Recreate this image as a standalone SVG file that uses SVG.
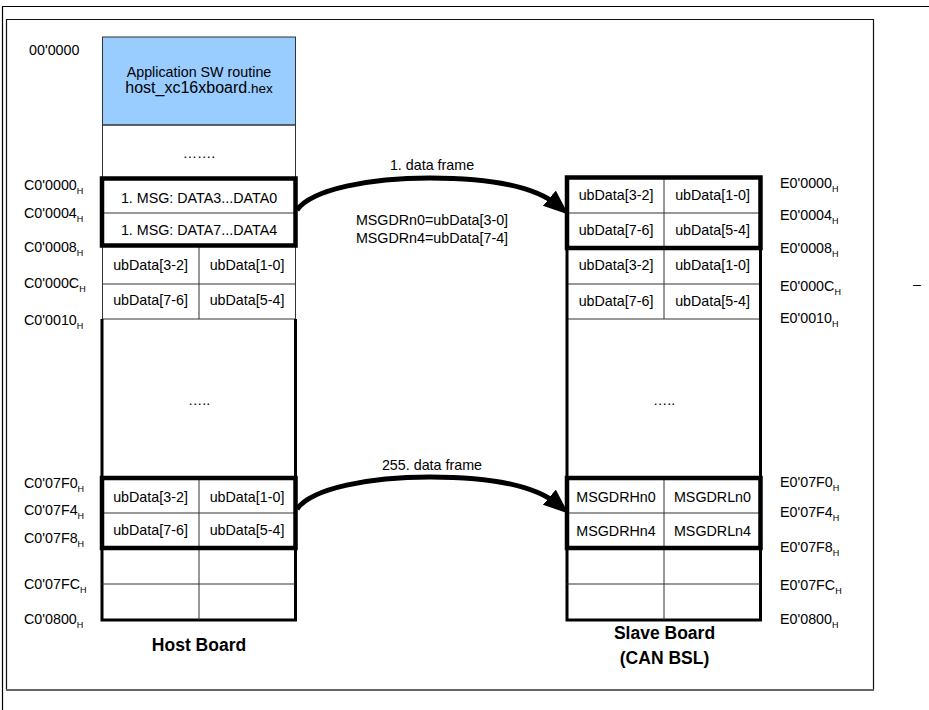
<svg xmlns="http://www.w3.org/2000/svg" width="929" height="710" viewBox="0 0 929 710">
<style>
text{font-family:"Liberation Sans",Arial,sans-serif;fill:#000}
.t{font-size:14.3px}
.c{font-size:14.3px;text-anchor:middle}
.b{font-size:17.5px;font-weight:bold;text-anchor:middle}
.sub{font-size:9px}
.thin{fill:none;stroke:#333;stroke-width:1}
.side{fill:none;stroke:#000;stroke-width:3}
.frame{fill:none;stroke:#000;stroke-width:4.5}
.arrow{fill:none;stroke:#000;stroke-width:5}
</style>
<defs>
<marker id="ah" markerUnits="userSpaceOnUse" markerWidth="28" markerHeight="22" refX="12" refY="10" orient="auto">
<path d="M0,0 L25,10 L0,20 z" fill="#000"/>
</marker>
</defs>
<rect width="929" height="710" fill="#fff"/>
<g id="frames">
<path d="M2.5,710 V6.5 H929" fill="none" stroke="#000" stroke-width="1.2"/>
<path d="M6.5,690 V19.5 H873.5 V690" fill="none" stroke="#111" stroke-width="1.2"/>
<line x1="6" y1="690" x2="874" y2="690" stroke="#666" stroke-width="2"/>
</g>

<g id="host">
<g id="host-app">
<rect x="102.5" y="37" width="193" height="88" fill="#99CCFF" stroke="#333" stroke-width="1"/>
<text class="c" x="199" y="77">Application SW routine</text>
<text class="c" x="199" y="93"><tspan font-size="16">host_xc16xboard</tspan><tspan font-size="13.5">.hex</tspan></text>
</g>
<g id="host-gap">
<rect x="102.5" y="125" width="193" height="53" class="thin" fill="#fff"/>
<text class="c" x="199" y="158">…….</text>
</g>
<g id="host-rows">
<path class="thin" d="M102.5,245 V319 M295.5,245 V319 M102.5,284 H295.5 M102.5,319 H295.5 M199,245 V319"/>
<text class="c" x="150.5" y="270">ubData[3-2]</text>
<text class="c" x="247" y="270">ubData[1-0]</text>
<text class="c" x="150.5" y="305">ubData[7-6]</text>
<text class="c" x="247" y="305">ubData[5-4]</text>
</g>
<g id="host-body">
<path class="side" d="M102,319 V620 H295.5 V319"/>
<text class="c" x="199" y="405">…..</text>
</g>
<g id="host-tail">
<path class="thin" d="M102,513 H295.5 M102,584 H295.5 M199,477 V620"/>
<text class="c" x="150.5" y="502">ubData[3-2]</text>
<text class="c" x="247" y="502">ubData[1-0]</text>
<text class="c" x="150.5" y="535">ubData[7-6]</text>
<text class="c" x="247" y="535">ubData[5-4]</text>
</g>
<g id="host-frame1">
<line class="thin" x1="102" y1="213" x2="295.5" y2="213"/>
<rect class="frame" x="102" y="178.5" width="193.5" height="67"/>
<text class="c" x="199" y="203">1. MSG: DATA3...DATA0</text>
<text class="c" x="199" y="235">1. MSG: DATA7...DATA4</text>
</g>
<g id="host-frame255">
<rect class="frame" x="102" y="478" width="193.5" height="70"/>
</g>
<text class="b" x="199" y="651">Host Board</text>
</g>

<g id="host-addresses">
<text class="t" x="29" y="55">00'0000</text>
<text class="t" x="24" y="190">C0'0000<tspan class="sub" dy="4">H</tspan></text>
<text class="t" x="24" y="218">C0'0004<tspan class="sub" dy="4">H</tspan></text>
<text class="t" x="24" y="252">C0'0008<tspan class="sub" dy="4">H</tspan></text>
<text class="t" x="24" y="288">C0'000C<tspan class="sub" dy="4">H</tspan></text>
<text class="t" x="24" y="325">C0'0010<tspan class="sub" dy="4">H</tspan></text>
<text class="t" x="24" y="488">C0'07F0<tspan class="sub" dy="4">H</tspan></text>
<text class="t" x="24" y="515">C0'07F4<tspan class="sub" dy="4">H</tspan></text>
<text class="t" x="24" y="543">C0'07F8<tspan class="sub" dy="4">H</tspan></text>
<text class="t" x="24" y="589">C0'07FC<tspan class="sub" dy="4">H</tspan></text>
<text class="t" x="24" y="624">C0'0800<tspan class="sub" dy="4">H</tspan></text>
</g>

<g id="slave">
<g id="slave-rows">
<path class="thin" d="M567,284 H760.5 M567,319 H760.5 M664,248 V319"/>
<text class="c" x="616" y="270">ubData[3-2]</text>
<text class="c" x="712.5" y="270">ubData[1-0]</text>
<text class="c" x="616" y="306">ubData[7-6]</text>
<text class="c" x="712.5" y="306">ubData[5-4]</text>
</g>
<g id="slave-body">
<path class="side" d="M567,248 V620 H760.5 V248"/>
<text class="c" x="664" y="405">…..</text>
</g>
<g id="slave-tail">
<path class="thin" d="M567,513 H760.5 M567,584 H760.5 M664,477 V620"/>
<text class="c" x="616" y="502">MSGDRHn0</text>
<text class="c" x="712.5" y="502">MSGDRLn0</text>
<text class="c" x="616" y="536">MSGDRHn4</text>
<text class="c" x="712.5" y="536">MSGDRLn4</text>
</g>
<g id="slave-frame1">
<path class="thin" d="M567,213 H760.5 M664,177 V248"/>
<rect class="frame" x="567" y="177.5" width="193.5" height="70.5"/>
<text class="c" x="616" y="200">ubData[3-2]</text>
<text class="c" x="712.5" y="200">ubData[1-0]</text>
<text class="c" x="616" y="235">ubData[7-6]</text>
<text class="c" x="712.5" y="235">ubData[5-4]</text>
</g>
<g id="slave-frame255">
<rect class="frame" x="567" y="478" width="193.5" height="70"/>
</g>
<text class="b" x="664.5" y="639">Slave Board</text>
<text class="b" x="664.5" y="664">(CAN BSL)</text>
</g>

<g id="slave-addresses">
<text class="t" x="780" y="188">E0'0000<tspan class="sub" dy="4">H</tspan></text>
<text class="t" x="780" y="220">E0'0004<tspan class="sub" dy="4">H</tspan></text>
<text class="t" x="780" y="253">E0'0008<tspan class="sub" dy="4">H</tspan></text>
<text class="t" x="780" y="291">E0'000C<tspan class="sub" dy="4">H</tspan></text>
<text class="t" x="780" y="323">E0'0010<tspan class="sub" dy="4">H</tspan></text>
<text class="t" x="780" y="487">E0'07F0<tspan class="sub" dy="4">H</tspan></text>
<text class="t" x="780" y="517">E0'07F4<tspan class="sub" dy="4">H</tspan></text>
<text class="t" x="780" y="552">E0'07F8<tspan class="sub" dy="4">H</tspan></text>
<text class="t" x="780" y="590">E0'07FC<tspan class="sub" dy="4">H</tspan></text>
<text class="t" x="780" y="624">E0'0800<tspan class="sub" dy="4">H</tspan></text>
</g>

<g id="connectors">
<path class="arrow" d="M297,210 C312,189 370,178 430,178 C490,178 535,186 558.5,206" marker-end="url(#ah)"/>
<path class="arrow" d="M297,509 C312,488 370,477 430,477 C490,477 535,485 558.5,505" marker-end="url(#ah)"/>
<text class="c" x="432" y="170">1. data frame</text>
<text class="c" x="432" y="225">MSGDRn0=ubData[3-0]</text>
<text class="c" x="432" y="243">MSGDRn4=ubData[7-4]</text>
<text class="c" x="432" y="470">255. data frame</text>
</g>
<text class="t" x="913" y="289">–</text>
</svg>
